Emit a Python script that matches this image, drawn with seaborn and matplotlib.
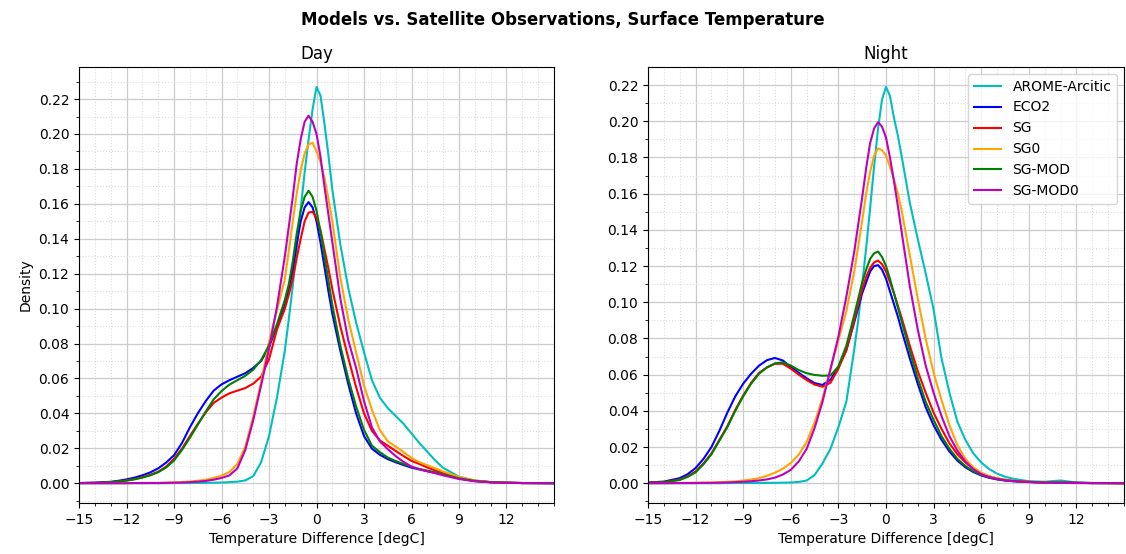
import numpy as np
import pandas as pd
import matplotlib
matplotlib.use("Agg")
import matplotlib.pyplot as plt
from matplotlib.ticker import MultipleLocator, FormatStrFormatter
import seaborn as sns

# temperature difference grid [degC]
temp_diff = [-15, -14, -13, -12.5, -12, -11.5, -11, -10.5, -10, -9.5, -9, -8.5, -8,
             -7.5, -7, -6.5, -6, -5.5, -5, -4.5, -4, -3.5, -3, -2.5, -2,
             -1.75, -1.5, -1.25, -1, -0.75, -0.5, -0.25, 0, 0.25, 0.5, 0.75, 1,
             1.5, 2, 2.5, 3, 3.5, 4, 4.5, 5, 5.5, 6, 6.5, 7, 7.5, 8,
             9, 10, 11, 12, 13, 14, 15]

models = ["AROME-Arcitic", "ECO2", "SG", "SG0", "SG-MOD", "SG-MOD0"]
colors = ["c", "b", "r", "orange", "g", "m"]

# day densities
day_arome = [0, 0, 0, 0, 0, 0, 0, 0, 0, 0, 0.0001, 0.0001, 0.0001,
             0.0002, 0.0002, 0.0003, 0.0004, 0.0006, 0.0009, 0.0016, 0.004, 0.012, 0.027, 0.049, 0.076,
             0.094, 0.113, 0.135, 0.157, 0.178, 0.197, 0.214, 0.227, 0.222, 0.206, 0.188, 0.168,
             0.137, 0.112, 0.092, 0.075, 0.059, 0.049, 0.043, 0.0385, 0.034, 0.0285, 0.023, 0.018, 0.013, 0.0088,
             0.0037, 0.0015, 0.0006, 0.0002, 0.0001, 0, 0]
day_eco2 = [0.0001, 0.0003, 0.0008, 0.0014, 0.0022, 0.0032, 0.0045, 0.0062, 0.0085, 0.0118, 0.016, 0.023, 0.032,
            0.040, 0.047, 0.053, 0.0566, 0.059, 0.061, 0.063, 0.066, 0.070, 0.078, 0.090, 0.102,
            0.111, 0.122, 0.137, 0.150, 0.158, 0.161, 0.158, 0.150, 0.138, 0.124, 0.110, 0.097,
            0.076, 0.057, 0.040, 0.027, 0.0198, 0.0163, 0.0138, 0.012, 0.0104, 0.0089, 0.0079, 0.0069, 0.006, 0.005,
            0.0027, 0.0013, 0.0006, 0.0003, 0.0001, 0.0001, 0]
day_sg = [0.0001, 0.0002, 0.0006, 0.001, 0.0016, 0.0024, 0.0035, 0.0048, 0.0066, 0.0095, 0.014, 0.0198, 0.027,
          0.034, 0.0405, 0.046, 0.049, 0.0515, 0.053, 0.0545, 0.057, 0.061, 0.071, 0.088, 0.100,
          0.108, 0.117, 0.129, 0.140, 0.150, 0.155, 0.1555, 0.152, 0.145, 0.134, 0.123, 0.111,
          0.090, 0.072, 0.055, 0.040, 0.030, 0.0245, 0.0215, 0.0185, 0.0155, 0.0128, 0.011, 0.009, 0.0073, 0.006,
          0.0031, 0.0014, 0.0006, 0.0003, 0.0001, 0.0001, 0]
day_sg0 = [0, 0, 0, 0.0001, 0.0001, 0.0001, 0.0001, 0.0002, 0.0002, 0.0003, 0.0005, 0.0007, 0.001,
           0.0014, 0.002, 0.003, 0.0043, 0.0065, 0.011, 0.021, 0.038, 0.058, 0.081, 0.099, 0.117,
           0.133, 0.150, 0.166, 0.179, 0.189, 0.194, 0.195, 0.190, 0.184, 0.175, 0.163, 0.150,
           0.118, 0.094, 0.075, 0.056, 0.042, 0.0305, 0.024, 0.021, 0.0178, 0.0145, 0.012, 0.0103, 0.0085, 0.0067,
           0.0036, 0.0016, 0.0007, 0.0003, 0.0001, 0, 0]
day_sgmod = [0.0001, 0.0002, 0.0006, 0.001, 0.0015, 0.0022, 0.0032, 0.0045, 0.0063, 0.009, 0.013, 0.019, 0.026,
             0.0335, 0.041, 0.048, 0.0528, 0.0565, 0.059, 0.0615, 0.065, 0.0705, 0.079, 0.091, 0.105,
             0.114, 0.127, 0.143, 0.156, 0.164, 0.1675, 0.164, 0.156, 0.144, 0.130, 0.116, 0.102,
             0.079, 0.060, 0.044, 0.0305, 0.0215, 0.0178, 0.0147, 0.0127, 0.011, 0.0093, 0.0081, 0.0072, 0.0062, 0.005,
             0.0028, 0.0013, 0.0006, 0.0003, 0.0001, 0.0001, 0]
day_sgmod0 = [0, 0, 0, 0, 0, 0.0001, 0.0001, 0.0001, 0.0001, 0.0002, 0.0003, 0.0004, 0.0006,
              0.0009, 0.0013, 0.002, 0.003, 0.0045, 0.0085, 0.019, 0.036, 0.056, 0.077, 0.101, 0.130,
              0.147, 0.164, 0.183, 0.197, 0.207, 0.2105, 0.207, 0.200, 0.187, 0.170, 0.154, 0.138,
              0.106, 0.082, 0.066, 0.047, 0.032, 0.024, 0.0195, 0.0155, 0.0122, 0.0095, 0.008, 0.0068, 0.0057, 0.0045,
              0.0024, 0.0011, 0.0005, 0.0002, 0.0001, 0, 0]

# night densities
night_arome = [0, 0, 0, 0, 0, 0, 0, 0, 0.0001, 0.0001, 0.0001, 0.0001, 0.0001,
               0.0002, 0.0002, 0.0003, 0.0004, 0.0007, 0.0015, 0.0045, 0.011, 0.019, 0.031, 0.045, 0.074,
               0.090, 0.110, 0.130, 0.152, 0.175, 0.196, 0.212, 0.219, 0.214, 0.202, 0.192, 0.180,
               0.155, 0.135, 0.116, 0.096, 0.069, 0.050, 0.034, 0.024, 0.0165, 0.0115, 0.0078, 0.0053, 0.0036, 0.0025,
               0.0011, 0.0008, 0.0015, 0.0004, 0.0001, 0, 0]
night_eco2 = [0.0004, 0.0009, 0.0028, 0.005, 0.0084, 0.0135, 0.020, 0.029, 0.039, 0.048, 0.055, 0.0605, 0.065,
              0.068, 0.0692, 0.0678, 0.0642, 0.061, 0.058, 0.0553, 0.0543, 0.0572, 0.0642, 0.0735, 0.089,
              0.097, 0.105, 0.111, 0.117, 0.120, 0.1205, 0.118, 0.113, 0.106, 0.099, 0.092, 0.084,
              0.069, 0.055, 0.042, 0.032, 0.024, 0.0175, 0.0125, 0.0088, 0.0062, 0.0043, 0.003, 0.0021, 0.0015, 0.0011,
              0.0007, 0.0004, 0.0003, 0.0002, 0.0001, 0.0001, 0]
night_sg = [0.0003, 0.0006, 0.002, 0.0038, 0.0065, 0.011, 0.0165, 0.024, 0.0315, 0.0405, 0.0485, 0.0555, 0.061,
            0.064, 0.066, 0.066, 0.0633, 0.060, 0.057, 0.0545, 0.0533, 0.0555, 0.0633, 0.0735, 0.090,
            0.099, 0.107, 0.114, 0.119, 0.122, 0.123, 0.121, 0.117, 0.111, 0.105, 0.098, 0.091,
            0.076, 0.062, 0.050, 0.039, 0.030, 0.022, 0.016, 0.0115, 0.008, 0.0055, 0.0038, 0.0027, 0.0019, 0.0013,
            0.0008, 0.0004, 0.0003, 0.0002, 0.0001, 0.0001, 0]
night_sg0 = [0, 0.0001, 0.0002, 0.0002, 0.0003, 0.0003, 0.0004, 0.0006, 0.0008, 0.001, 0.0015, 0.002, 0.0028,
             0.0041, 0.0058, 0.008, 0.0112, 0.0158, 0.0228, 0.0335, 0.047, 0.063, 0.079, 0.095, 0.117,
             0.131, 0.145, 0.160, 0.172, 0.181, 0.185, 0.184, 0.181, 0.175, 0.168, 0.160, 0.150,
             0.126, 0.102, 0.080, 0.061, 0.046, 0.032, 0.021, 0.0135, 0.0088, 0.0058, 0.0039, 0.0027, 0.0019, 0.0014,
             0.0008, 0.0004, 0.0002, 0.0001, 0.0001, 0, 0]
night_sgmod = [0.0003, 0.0005, 0.0018, 0.0035, 0.006, 0.0105, 0.016, 0.0235, 0.031, 0.040, 0.048, 0.055, 0.0605,
               0.064, 0.0662, 0.0668, 0.065, 0.0625, 0.0608, 0.0598, 0.0594, 0.0595, 0.0645, 0.076, 0.093,
               0.102, 0.111, 0.118, 0.124, 0.127, 0.128, 0.125, 0.120, 0.113, 0.105, 0.097, 0.089,
               0.073, 0.058, 0.045, 0.035, 0.026, 0.019, 0.0135, 0.0095, 0.0066, 0.0046, 0.0032, 0.0023, 0.0016, 0.0012,
               0.0007, 0.0004, 0.0003, 0.0002, 0.0001, 0.0001, 0]
night_sgmod0 = [0, 0, 0.0001, 0.0001, 0.0001, 0.0002, 0.0002, 0.0003, 0.0004, 0.0006, 0.0008, 0.0011, 0.0015,
                0.0021, 0.0031, 0.0048, 0.0074, 0.012, 0.019, 0.0305, 0.045, 0.063, 0.081, 0.103, 0.128,
                0.143, 0.158, 0.174, 0.188, 0.196, 0.1995, 0.197, 0.191, 0.180, 0.167, 0.153, 0.138,
                0.109, 0.085, 0.065, 0.050, 0.037, 0.026, 0.018, 0.012, 0.0078, 0.005, 0.0034, 0.0023, 0.0016, 0.0012,
                0.0006, 0.0003, 0.0002, 0.0001, 0, 0, 0]

day_series = [day_arome, day_eco2, day_sg, day_sg0, day_sgmod, day_sgmod0]
night_series = [night_arome, night_eco2, night_sg, night_sg0, night_sgmod, night_sgmod0]


def to_long(series):
    frames = []
    for name, vals in zip(models, series):
        frames.append(pd.DataFrame({"diff": temp_diff, "density": vals, "model": name}))
    return pd.concat(frames, ignore_index=True)


df_day = to_long(day_series)
df_night = to_long(night_series)
palette = dict(zip(models, colors))

fig = plt.figure(figsize=(11.26, 5.54), dpi=100)
ax1 = fig.add_axes([0.0702, 0.092, 0.4218, 0.787])
ax2 = fig.add_axes([0.5755, 0.092, 0.4227, 0.787])

sns.lineplot(data=df_day, x="diff", y="density", hue="model", palette=palette,
             hue_order=models, linewidth=1.5, ax=ax1, legend=False)
sns.lineplot(data=df_night, x="diff", y="density", hue="model", palette=palette,
             hue_order=models, linewidth=1.5, ax=ax2)

for ax, title in [(ax1, "Day"), (ax2, "Night")]:
    ax.set_xlim(-15, 15)
    ax.set_xticks(np.arange(-15, 13, 3))
    ax.set_yticks(np.arange(0, 0.23, 0.02))
    ax.yaxis.set_major_formatter(FormatStrFormatter("%.2f"))
    ax.xaxis.set_minor_locator(MultipleLocator(1))
    ax.yaxis.set_minor_locator(MultipleLocator(0.01))
    ax.grid(which="major", color="#cccccc", linestyle="-", linewidth=0.9)
    ax.grid(which="minor", color="#dddddd", linestyle=":", linewidth=0.8)
    ax.set_axisbelow(True)
    ax.set_title(title, fontsize=12)
    ax.set_xlabel("Temperature Difference [degC]", fontsize=10)

ax1.set_ylabel("Density", fontsize=10)
ax2.set_ylabel("")
ax2.legend(loc="upper right", fontsize=10, title=None)

fig.suptitle("Models vs. Satellite Observations, Surface Temperature",
             fontweight="bold", fontsize=12, y=0.98)

fig.savefig("out.png", dpi=100)
